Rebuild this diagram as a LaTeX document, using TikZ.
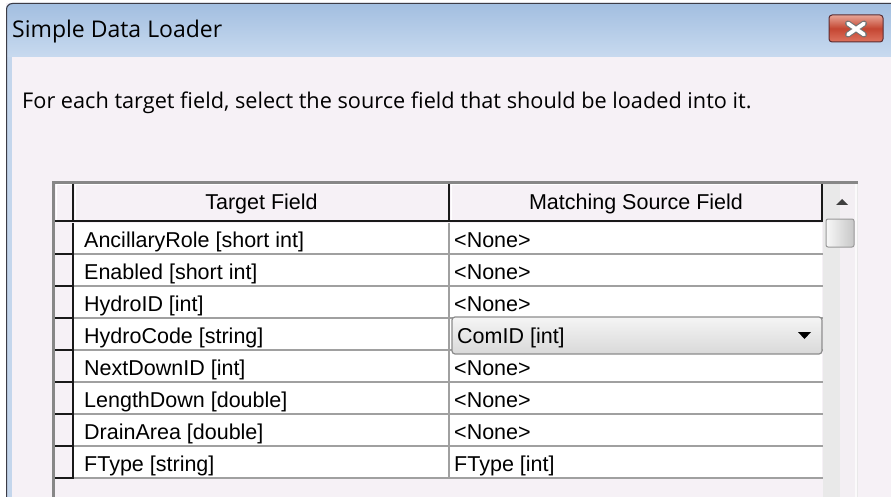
\documentclass[tikz,border=0pt]{standalone}
\usepackage{fontspec}
\setmainfont{Liberation Sans}
\newfontfamily\uifont{Open Sans}
\definecolor{bodybg}{RGB}{246,241,246}
\definecolor{titletop}{RGB}{162,190,224}
\definecolor{titlebot}{RGB}{200,218,239}
\definecolor{framedark}{RGB}{60,60,70}
\definecolor{framelight}{RGB}{196,214,236}
\definecolor{gridgray}{RGB}{135,135,135}
\definecolor{rowline}{RGB}{160,160,160}
\definecolor{hdrdark}{RGB}{25,25,25}
\definecolor{closetop}{RGB}{232,165,150}
\definecolor{closemid}{RGB}{196,70,50}
\definecolor{closebot}{RGB}{222,115,95}
\definecolor{closeedge}{RGB}{90,45,50}
\definecolor{trackA}{RGB}{233,233,233}
\definecolor{trackB}{RGB}{243,239,243}
\begin{document}
\begin{tikzpicture}[x=1pt,y=-1pt,
  gridtext/.style={anchor=base west, inner sep=0pt, font=\fontsize{21.5}{24}\selectfont},
  hdrtext/.style={anchor=base, inner sep=0pt, font=\fontsize{21.5}{24}\selectfont},
  uitext/.style={anchor=west, inner sep=0pt}]
\useasboundingbox (0,0) rectangle (891,497);
\fill[white] (0,0) rectangle (891,497);
% window body
\fill[bodybg] (6,3) rectangle (900,510);
% title bar
\shade[top color=titletop, bottom color=titlebot] (6,57) {[rounded corners=6pt] -- (6,3) -- (900,3)} -- (900,57) -- cycle;
% left frame stripe
\fill[framelight] (6,57) rectangle (12,510);
\draw[framedark, line width=1pt] (6.5,510) {[rounded corners=6pt] -- (6.5,3.5) -- (900,3.5)};
% title
\node[uitext, font=\uifont\fontsize{23}{26}\selectfont] (title) at (12,32) {Simple Data Loader};
% close button
\node[draw=closeedge, line width=1pt, rounded corners=3pt, minimum width=54pt, minimum height=27pt,
  top color=closetop, bottom color=closebot, middle color=closemid, inner sep=0pt] (close) at (856,28.5) {};
\draw[line width=6pt, black!55, line cap=round] ([xshift=-8pt,yshift=-6pt]close.center) -- ([xshift=8pt,yshift=5pt]close.center)
  ([xshift=-8pt,yshift=5pt]close.center) -- ([xshift=8pt,yshift=-6pt]close.center);
\draw[line width=3.8pt, white, line cap=round] ([xshift=-8pt,yshift=-6pt]close.center) -- ([xshift=8pt,yshift=5pt]close.center)
  ([xshift=-8pt,yshift=5pt]close.center) -- ([xshift=8pt,yshift=-6pt]close.center);
% instruction
\node[uitext, font=\uifont\fontsize{21.7}{25}\selectfont] (instr) at (22,103) {For each target field, select the source field that should be loaded into it.};
% grid frame
\draw[gridgray, line width=3pt] (53.5,510) -- (53.5,182.5) -- (858,182.5);
% scrollbar track
\fill[trackA] (823,184) rectangle (858,510);
\fill[trackB] (840,184) rectangle (855,510);
\fill[white!70!trackB] (855,184) rectangle (857,510);
% header cells
\fill[bodybg] (55,184) rectangle (822,221);
\draw[white, line width=1pt] (56,221) -- (56,184.5) -- (73,184.5);
\draw[white, line width=1pt] (75,221) -- (75,184.5) -- (448,184.5);
\draw[white, line width=1pt] (451,221) -- (451,184.5) -- (821,184.5);
\draw[hdrdark, line width=2pt] (73,184) -- (73,222);
\draw[hdrdark, line width=2pt] (448.5,184) -- (448.5,222);
\draw[hdrdark, line width=2pt] (821.5,184) -- (821.5,222);
\draw[hdrdark, line width=2pt] (55,221) -- (822.5,221);
\node[hdrtext] (hT) at (261.5,209.5) {Target Field};
\node[hdrtext] (hM) at (636,209.5) {Matching Source Field};
% data rows
\foreach \i in {1,...,8}{
  \pgfmathsetmacro{\top}{223+32*(\i-1)}
  \pgfmathsetmacro{\bot}{\top+32}
  \fill[white] (74,\top) rectangle (822,\bot);
  \draw[rowline, line width=2pt] (74,\bot-1) -- (823,\bot-1);
  \draw[rowline, line width=2pt] (449,\top) -- (449,\bot);
  \draw[hdrdark, line width=2pt] (55,\bot-1) -- (74,\bot-1);
  \draw[hdrdark, line width=2pt] (73,\top) -- (73,\bot);
}
% target field texts
\foreach \i/\txt in {1/{AncillaryRole [short int]},2/{Enabled [short int]},3/{HydroID [int]},4/{HydroCode [string]},5/{NextDownID [int]},6/{LengthDown [double]},7/{DrainArea [double]},8/{FType [string]}}{
  \node[gridtext] (t\i) at (84,{247+32*(\i-1)}) {\txt};
}
% matching texts
\foreach \i/\txt in {1/{<None>},2/{<None>},3/{<None>},5/{<None>},6/{<None>},7/{<None>},8/{FType [int]}}{
  \node[gridtext] (m\i) at (454,{247+32*(\i-1)}) {\txt};
}
% dropdown
\shade[top color=white!96!black, bottom color=white!85!black, rounded corners=3pt] (452,317) rectangle (822,354);
\draw[black!45, line width=1.2pt, rounded corners=3pt] (452,317) rectangle (822,354);
\node[gridtext] (m4) at (457,343) {ComID [int]};
\fill[black] (798,332) -- (811,332) -- (804.5,339) -- cycle;
% scrollbar arrow and thumb
\fill[black!75] (836,205) -- (848,205) -- (842,199) -- cycle;
\shade[left color=white!97!black, right color=black!22, rounded corners=2pt] (826,219) rectangle (854,247);
\draw[black!40, line width=1pt, rounded corners=2pt] (826,219) rectangle (854,247);
\end{tikzpicture}
\end{document}
